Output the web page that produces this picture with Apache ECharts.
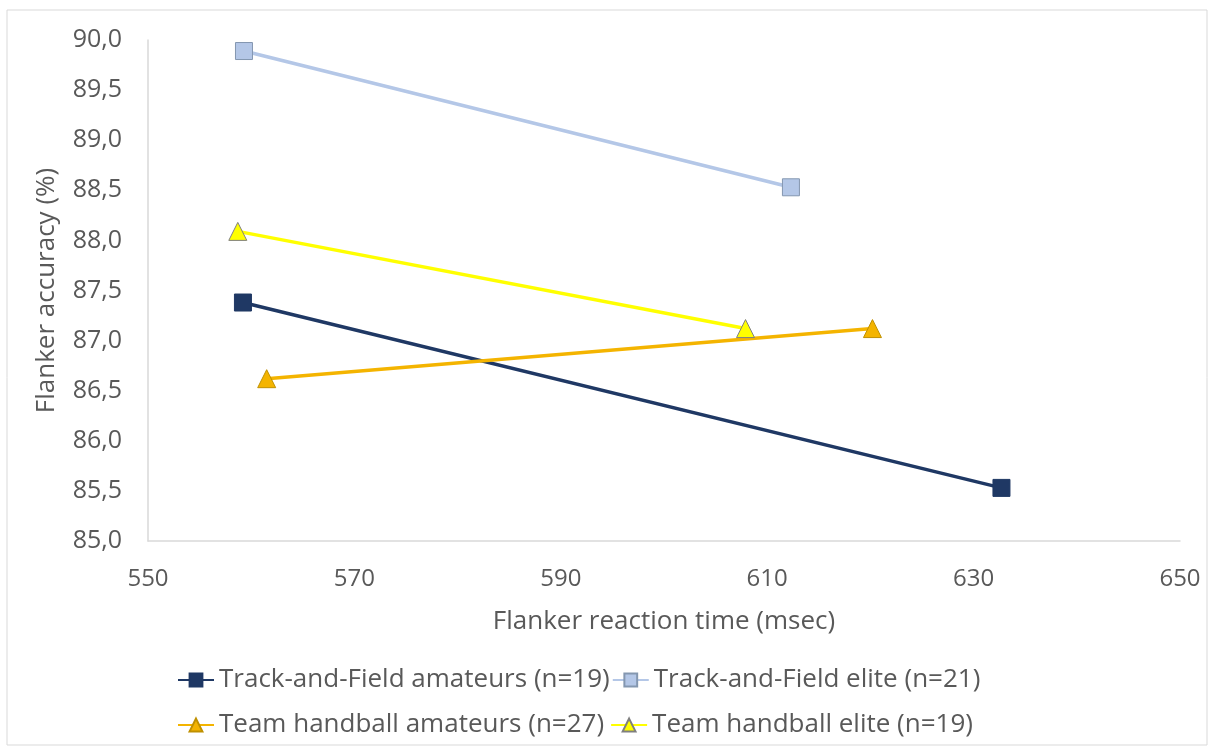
<!DOCTYPE html>
<html><head><meta charset="utf-8">
<script src="https://cdn.jsdelivr.net/npm/echarts@6/dist/echarts.min.js"></script>
<style>html,body{margin:0;padding:0;background:#fff}#c{width:1212px;height:747px}</style>
</head><body><div id="c"></div>
<script>
const seriesNames = ['Track-and-Field amateurs (n=19)','Track-and-Field elite (n=21)','Team handball amateurs (n=27)','Team handball elite (n=19)'];
const tfAmateurs = [[559.2, 87.38],[632.7, 85.53]];
const tfElite = [[559.3, 89.89],[612.3, 88.53]];
const thAmateurs = [[561.5, 86.62],[620.2, 87.12]];
const thElite = [[558.7, 88.09],[607.9, 87.12]];
const xTicks = [550,570,590,610,630,650];
const yTicks = [85,85.5,86,86.5,87,87.5,88,88.5,89,89.5,90];

const font = 'Open Sans';
const grey = '#595959';
function mk(name, data, color, symbol, border, size){
  return {name, type:'line', data, symbol, symbolSize:size,
    lineStyle:{color, width:3.5},
    itemStyle:{color, borderColor:border, borderWidth:1},
    z: 3};
}
const chart = echarts.init(document.getElementById('c'));
chart.setOption({
  animation:false,
  graphic:[{type:'rect', shape:{x:7,y:10,width:1200,height:735}, style:{fill:'none', stroke:'#d9d9d9', lineWidth:1}, silent:true}],
  grid:{left:148, right:32, top:40, bottom:206},
  xAxis:{type:'value', min:xTicks[0], max:xTicks[xTicks.length-1], interval:20,
    name:'Flanker reaction time (msec)', nameLocation:'middle', nameGap:68,
    nameTextStyle:{fontFamily:font, fontSize:26, color:grey},
    axisLine:{lineStyle:{color:'#d9d9d9', width:1.5}}, axisTick:{show:false},
    splitLine:{show:false},
    axisLabel:{fontFamily:font, fontSize:24, color:grey, margin:26}},
  yAxis:{type:'value', min:yTicks[0], max:yTicks[yTicks.length-1], interval:0.5,
    name:'Flanker accuracy (%)', nameLocation:'middle', nameGap:88,
    nameTextStyle:{fontFamily:font, fontSize:26, color:grey},
    axisLine:{show:true, lineStyle:{color:'#d9d9d9', width:1.5}}, axisTick:{show:false},
    splitLine:{show:false},
    axisLabel:{fontFamily:font, fontSize:25, color:grey, margin:26,
      formatter:v=>v.toFixed(1).replace('.',',')}},
  legend:[
    {data:[seriesNames[0],seriesNames[1]], left:172, top:662, itemGap:2, itemWidth:36, itemHeight:16,
      textStyle:{fontFamily:font, fontSize:26, color:grey}},
    {data:[seriesNames[2],seriesNames[3]], left:172, top:707, itemGap:6, itemWidth:36, itemHeight:16,
      textStyle:{fontFamily:font, fontSize:26, color:grey}}
  ],
  series:[
    mk(seriesNames[0], tfAmateurs, '#1f3864', 'rect', '#1f3864', 17),
    mk(seriesNames[1], tfElite, '#b4c7e7', 'rect', '#8497b0', 17),
    mk(seriesNames[2], thAmateurs, '#f4b400', 'triangle', '#bf9000', 18),
    mk(seriesNames[3], thElite, '#ffff00', 'triangle', '#7f7f7f', 18)
  ]
});
</script></body></html>
